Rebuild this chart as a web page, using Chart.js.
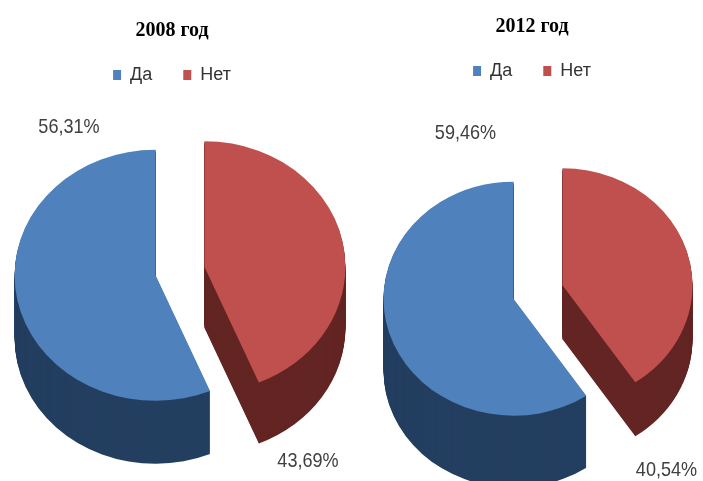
<!DOCTYPE html>
<html>
<head>
<meta charset="utf-8">
<script src="https://cdn.jsdelivr.net/npm/chart.js@4.4.1/dist/chart.umd.min.js"></script>
<style>
html, body { margin: 0; padding: 0; background: #fff; overflow: hidden; }
#left { position: absolute; left: -6px; top: 0; width: 356px; height: 481px; }
#right { position: absolute; left: 361px; top: 0; width: 342px; height: 481px; }
</style>
</head>
<body>
<div id="left"><canvas id="c2008"></canvas></div>
<div id="right"><canvas id="c2012"></canvas></div>
<script>
const categories = ["Да", "Нет"]
const values2008 = [56.31, 43.69]
const values2012 = [59.46, 40.54]
const titles = ["2008 год", "2012 год"]

const topColors = ["#4F81BD", "#C0504D"]
const sideColors = ["#243F60", "#632523"]

function fmt(v) {
    return v.toFixed(2).replace(".", ",") + "%"
}

// draws one slice, squashed vertically around the pie centre and pushed down by dy
function slice(ctx, p, ex, ey, k, dy) {
    ctx.save()
    ctx.translate(0, p.y + dy)
    ctx.scale(1, k)
    ctx.translate(0, -p.y)
    ctx.beginPath()
    ctx.moveTo(p.x + ex, p.y + ey)
    ctx.arc(p.x + ex, p.y + ey, p.outerRadius, p.startAngle, p.endAngle)
    ctx.closePath()
    ctx.fill()
    ctx.restore()
}

const pie3d = {
    id: "pie3d",
    afterLayout(chart, args, o) {
        const a = chart.chartArea
        const w = a.right - a.left, h = a.bottom - a.top
        a.left = o.cx - w / 2
        a.right = o.cx + w / 2
        a.top = o.cy - h / 2
        a.bottom = o.cy + h / 2
    },
    beforeDatasetsDraw(chart, args, o) {
        const ctx = chart.ctx
        const meta = chart.getDatasetMeta(0)
        const values = chart.data.datasets[0].data
        ctx.save()
        meta.data.forEach((arc, i) => {
            const p = arc.getProps(["x", "y", "startAngle", "endAngle", "outerRadius"], true)
            const half = (p.startAngle + p.endAngle) / 2
            const ex = Math.cos(half) * o.explode
            const ey = Math.sin(half) * o.explode
            ctx.fillStyle = o.sideColors[i]
            for (let d = o.depth[i]; d > 0; d--) {
                slice(ctx, p, ex, ey, o.k, d)
            }
            ctx.fillStyle = arc.options.backgroundColor
            slice(ctx, p, ex, ey, o.k, 0)
        })
        // percentage labels
        ctx.font = "21px 'Liberation Sans', Arial, sans-serif"
        ctx.fillStyle = "#404040"
        ctx.textAlign = "center"
        ctx.textBaseline = "middle"
        meta.data.forEach((arc, i) => {
            ctx.save()
            ctx.translate(arc.x + o.labels[i][0], arc.y + o.labels[i][1])
            ctx.scale(0.86, 1)
            ctx.fillText(fmt(values[i]), 0, 0)
            ctx.restore()
        })
        ctx.restore()
        return false
    }
}

function makePie(id, title, values, opts) {
    const total = values[0] + values[1]
    new Chart(document.getElementById(id), {
        type: "pie",
        data: {
            labels: categories,
            datasets: [{
                data: values,
                backgroundColor: topColors,
                borderWidth: 0,
                radius: opts.radius
            }]
        },
        plugins: [pie3d],
        options: {
            responsive: true,
            maintainAspectRatio: false,
            animation: false,
            events: [],
            rotation: values[1] / total * 360,
            plugins: {
                title: {
                    display: true,
                    text: title,
                    color: "#000",
                    font: { family: "'Liberation Serif', 'Times New Roman', serif", size: 20, weight: "bold" },
                    padding: { top: opts.titleTop, bottom: -8 }
                },
                legend: {
                    position: "top",
                    labels: {
                        boxWidth: 8,
                        boxHeight: 10,
                        padding: 31,
                        color: "#333",
                        font: { family: "'Liberation Sans', Arial, sans-serif", size: 18 }
                    }
                },
                tooltip: { enabled: false },
                pie3d: {
                    cx: opts.cx,
                    cy: opts.cy,
                    k: opts.k,
                    explode: opts.explode,
                    depth: opts.depth,
                    sideColors: sideColors,
                    labels: opts.labels
                }
            }
        }
    })
}

makePie("c2008", titles[0], values2008, {
    radius: 141, cx: 186, cy: 271, k: 0.89, explode: 24.9,
    depth: [63, 61], titleTop: 19,
    labels: [[-111, -144], [128, 190]]
})

makePie("c2012", titles[1], values2012, {
    radius: 130, cx: 177, cy: 292, k: 0.9, explode: 25.6,
    depth: [72, 54], titleTop: 15,
    labels: [[-72.5, -158.5], [128.5, 178.5]]
})
</script>
</body>
</html>
